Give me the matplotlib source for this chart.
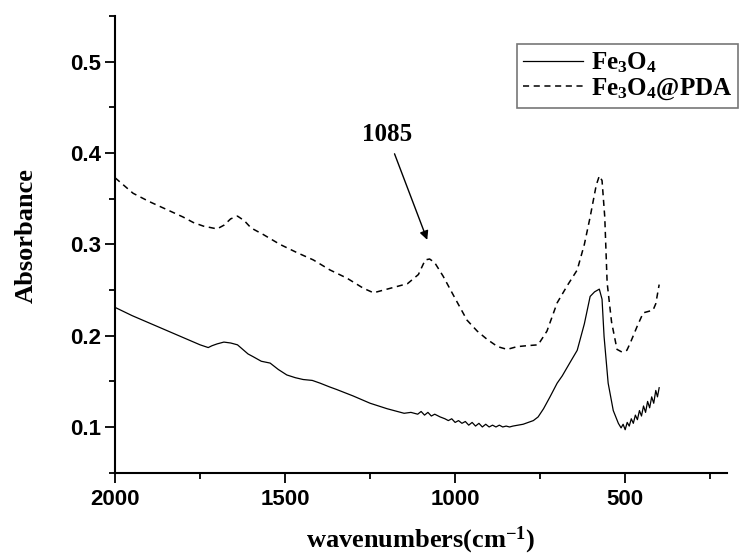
import matplotlib
matplotlib.use("Agg")
import matplotlib.pyplot as plt
from matplotlib.ticker import MultipleLocator

plt.rcParams['mathtext.fontset'] = 'custom'
plt.rcParams['mathtext.rm'] = 'Liberation Serif:bold'
plt.rcParams['mathtext.it'] = 'Liberation Serif:bold:italic'
plt.rcParams['mathtext.bf'] = 'Liberation Serif:bold'

# ---- data ----
pda_w = [2000, 1947, 1900, 1847, 1800, 1770, 1740, 1700, 1680, 1660, 1640, 1620, 1600,
         1565, 1515, 1465, 1417, 1368, 1318, 1270, 1240, 1190, 1140, 1108, 1088, 1075,
         1060, 1035, 1009, 990, 965, 935, 906, 875, 847, 818, 790, 756, 730, 700, 670,
         641, 620, 603, 585, 576, 568, 560, 553, 540, 524, 509, 495, 485, 465, 447, 418,
         410, 400]
pda_a = [0.373, 0.356, 0.347, 0.338, 0.330, 0.324, 0.320, 0.317, 0.321, 0.328, 0.331,
         0.326, 0.318, 0.311, 0.300, 0.291, 0.283, 0.272, 0.263, 0.252, 0.247, 0.252,
         0.257, 0.267, 0.283, 0.284, 0.280, 0.265, 0.247, 0.234, 0.217, 0.205, 0.196,
         0.188, 0.185, 0.188, 0.189, 0.190, 0.205, 0.236, 0.255, 0.272, 0.300, 0.330,
         0.365, 0.375, 0.370, 0.330, 0.258, 0.215, 0.185, 0.182, 0.184, 0.192, 0.210,
         0.225, 0.228, 0.235, 0.256]

fe_w = [2000, 1950, 1900, 1850, 1800, 1750, 1726, 1715, 1700, 1680, 1660, 1640, 1609,
        1594, 1570, 1544, 1520, 1495, 1470, 1447, 1420, 1397, 1370, 1348, 1300, 1250,
        1200, 1170, 1150, 1130, 1110, 1100, 1090, 1080, 1070, 1060, 1044, 1030, 1020,
        1010, 1000, 990, 980, 970, 960, 950, 940, 930, 920, 910, 900, 890, 880, 870,
        860, 850, 840, 830, 815, 800, 785, 770, 756, 740, 721, 700, 685, 660, 641, 620,
        603, 590, 576, 568, 562, 550, 535, 520, 512, 506, 500, 494, 488, 482, 476,
        470, 464, 458, 452, 446, 440, 434, 428, 422, 416, 410, 405, 400]
fe_a = [0.231, 0.222, 0.214, 0.206, 0.198, 0.190, 0.187, 0.189, 0.191, 0.193, 0.192,
        0.190, 0.180, 0.177, 0.172, 0.170, 0.163, 0.157, 0.154, 0.152, 0.151, 0.148,
        0.144, 0.141, 0.134, 0.126, 0.120, 0.117, 0.115, 0.116, 0.114, 0.117, 0.113,
        0.116, 0.112, 0.114, 0.111, 0.109, 0.107, 0.109, 0.105, 0.107, 0.104, 0.106,
        0.102, 0.105, 0.101, 0.104, 0.100, 0.103, 0.100, 0.102, 0.100, 0.102, 0.100,
        0.101, 0.100, 0.101, 0.102, 0.103, 0.105, 0.107, 0.111, 0.120, 0.133, 0.148,
        0.156, 0.172, 0.184, 0.213, 0.243, 0.248, 0.251, 0.240, 0.199, 0.148, 0.118,
        0.104, 0.099, 0.103, 0.097, 0.105, 0.101, 0.109, 0.104, 0.113, 0.108,
        0.118, 0.112, 0.123, 0.116, 0.128, 0.121, 0.133, 0.126, 0.140, 0.133, 0.143]

label_fe = r'Fe$_3$O$_4$'
label_pda = r'Fe$_3$O$_4$@PDA'
annot_text = '1085'
annot_xy = (1082, 0.305)
annot_txt_xy = (1200, 0.408)

fig = plt.figure(figsize=(7.52, 5.58), dpi=100)
ax = fig.add_axes([0.153, 0.153, 0.814, 0.818])

ax.plot(fe_w, fe_a, color='black', lw=0.9, label=label_fe)
ax.plot(pda_w, pda_a, color='black', lw=1.1, linestyle=(0, (4, 3)), label=label_pda)

ax.set_xlim(2000, 200)
ax.set_ylim(0.05, 0.55)
ax.xaxis.set_major_locator(MultipleLocator(500))
ax.xaxis.set_minor_locator(MultipleLocator(250))
ax.yaxis.set_major_locator(MultipleLocator(0.1))
ax.yaxis.set_minor_locator(MultipleLocator(0.05))
ax.set_xticks([2000, 1500, 1000, 500])

for s in ['top', 'right']:
    ax.spines[s].set_visible(False)
for s in ['left', 'bottom']:
    ax.spines[s].set_linewidth(1.5)

ax.tick_params(which='major', direction='out', length=7, width=1.3)
ax.tick_params(which='minor', direction='out', length=4, width=1.3)
for lab in ax.get_xticklabels() + ax.get_yticklabels():
    lab.set_fontfamily('Liberation Sans')
    lab.set_fontweight('bold')
    lab.set_fontsize(16)
ax.tick_params(axis='x', pad=5)
ax.tick_params(axis='y', pad=3)

ax.set_xlabel(r'wavenumbers(cm$^{-1}$)', fontfamily='Liberation Serif',
              fontweight='bold', fontsize=19, labelpad=10)
ax.set_ylabel('Absorbance', fontfamily='Liberation Serif', fontweight='bold',
              fontsize=19)
ax.yaxis.set_label_coords(-0.127, 0.52)

ax.annotate(annot_text, xy=annot_xy, xytext=annot_txt_xy,
            fontfamily='Liberation Serif', fontweight='bold', fontsize=18,
            ha='center', va='bottom',
            arrowprops=dict(arrowstyle='-|>', color='black', lw=1.0,
                            mutation_scale=13, shrinkA=4, shrinkB=0))

leg = fig.legend(loc='upper left', bbox_to_anchor=(517 / 752, 1 - 44 / 558),
                 prop={'family': 'Liberation Serif', 'weight': 'bold', 'size': 18},
                 frameon=True, fancybox=False, handlelength=2.4, handletextpad=0.3,
                 borderpad=0.25, labelspacing=0.05, borderaxespad=0)
leg.get_frame().set_edgecolor('#555555')
leg.get_frame().set_linewidth(1.2)

fig.savefig('out.png', dpi=100)
